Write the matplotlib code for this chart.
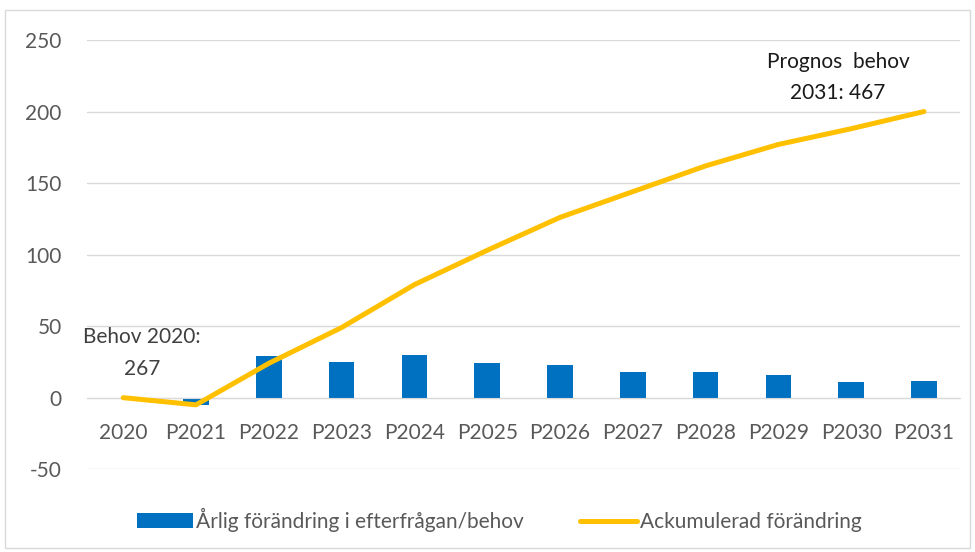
import matplotlib
matplotlib.use("Agg")
import matplotlib.pyplot as plt
from matplotlib.patches import Rectangle, Patch
from matplotlib.lines import Line2D
import numpy as np

categories = ["2020", "P2021", "P2022", "P2023", "P2024", "P2025", "P2026",
              "P2027", "P2028", "P2029", "P2030", "P2031"]
arlig = [0, -5, 29, 25, 30, 24, 23, 18, 18, 16, 11, 12]
ackumulerad = [0, -5, 24, 49, 79, 103, 126, 144, 162, 177, 188, 200]
yticks = [-50, 0, 50, 100, 150, 200, 250]

plt.rcParams['font.family'] = ['Lato', 'DejaVu Sans']

fig = plt.figure(figsize=(9.75, 5.52), dpi=100)
ax = fig.add_axes([0.089, 0.150, 0.896, 0.7775])

x = np.arange(len(categories))
ax.bar(x, arlig, width=0.35, color="#0070C0", zorder=2)
ax.plot(x, ackumulerad, color="#FFC000", lw=3.6, solid_capstyle="round", zorder=3)

ax.set_xlim(-0.5, len(categories) - 0.5)
ax.set_ylim(-50, 250)
ax.set_yticks(yticks)
ax.set_yticklabels([str(v) for v in yticks])
ax.yaxis.grid(True, color="#d9d9d9", lw=1)
ax.set_axisbelow(True)
for s in ["top", "right", "left"]:
    ax.spines[s].set_visible(False)
ax.spines["bottom"].set_position(("data", 0))
ax.spines["bottom"].set_color("#d9d9d9")
ax.set_xticks(x)
ax.set_xticklabels(categories)
ax.tick_params(axis="x", length=0, pad=18, labelsize=15, labelcolor="#595959")
ax.tick_params(axis="y", length=0, pad=18, labelsize=15, labelcolor="#595959")

ax.text(0.26, 31, "Behov 2020:\n267", ha="center", va="center", fontsize=15,
        color="#404040", linespacing=1.75)
ax.text(9.82, 224, "Prognos  behov\n2031: 467", ha="center", va="center",
        fontsize=15, color="#1a1a1a", linespacing=1.7)

handles = [Patch(facecolor="#0070C0", edgecolor="none"),
           Line2D([0], [0], color="#FFC000", lw=3.6, solid_capstyle="round")]
fig.legend(handles, ["Årlig förändring i efterfrågan/behov", "Ackumulerad förändring"],
           loc="center", bbox_to_anchor=(0.512, 0.058), ncol=2, frameon=False,
           fontsize=15, labelcolor="#595959", handlelength=2.7, handletextpad=0.15,
           columnspacing=2.7)

fig.patches.append(Rectangle((5 / 975, 4 / 552), 965 / 975, 538 / 552,
                             transform=fig.transFigure, fill=False,
                             edgecolor="#d9d9d9", lw=1))

fig.savefig("out.png", dpi=100)
